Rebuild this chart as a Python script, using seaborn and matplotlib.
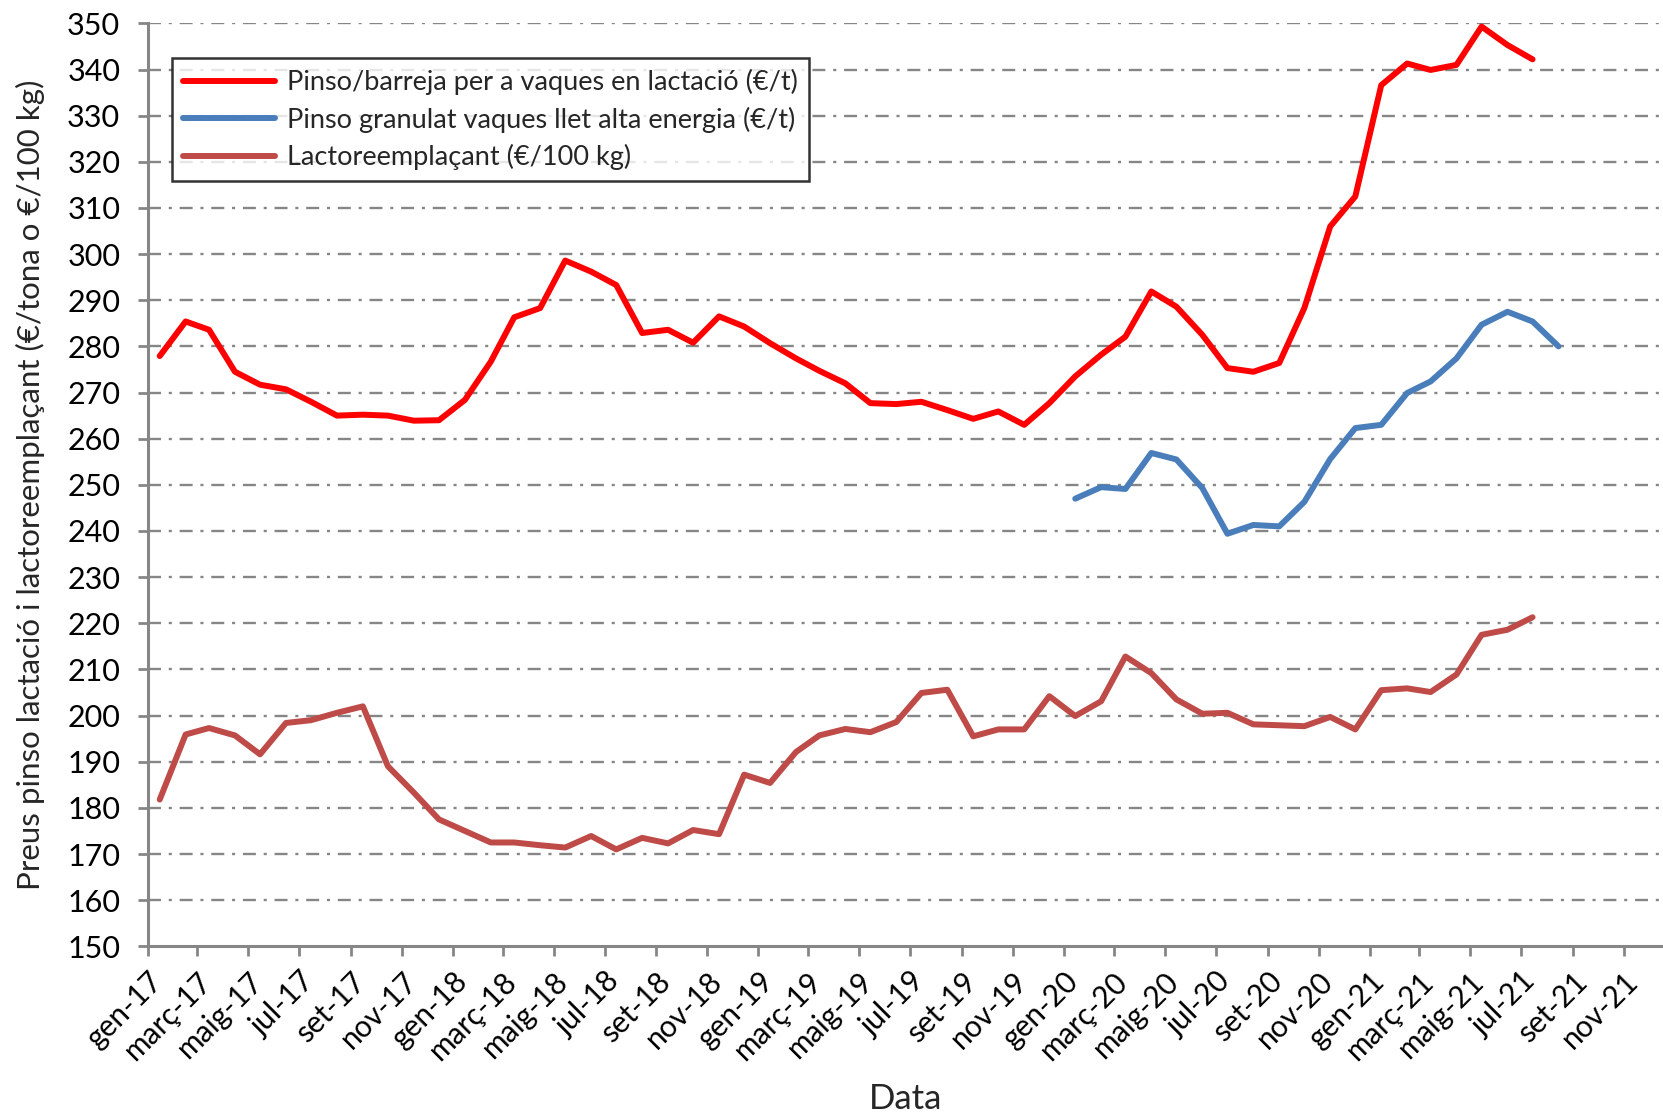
import pandas as pd
import matplotlib.pyplot as plt
import matplotlib.transforms as mtransforms
import seaborn as sns
import numpy as np

# Valors mensuals llegits del gràfic (gen-17 ... jul-21)
pinso_lactacio = [277.9, 285.4, 283.6, 274.5, 271.7, 270.7, 268.0, 265.0, 265.2, 265.0,
                  263.9, 264.0, 268.4, 276.7, 286.3, 288.3, 298.6, 296.2, 293.3, 282.9,
                  283.6, 280.8, 286.5, 284.3, 280.7, 277.4, 274.7, 272.0, 267.7, 267.5,
                  268.0, 266.2, 264.3, 265.9, 263.0, 267.7, 273.5, 278.2, 282.1, 291.9,
                  288.6, 282.5, 275.3, 274.5, 276.4, 288.3, 306.0, 312.5, 336.6, 341.3,
                  339.9, 341.0, 349.3, 345.3, 342.2]
# gen-20 ... ag-21
pinso_granulat = [247.0, 249.5, 249.1, 256.9, 255.5, 249.3, 239.4, 241.3, 241.0, 246.3,
                  255.6, 262.3, 263.0, 269.9, 272.4, 277.4, 284.7, 287.5, 285.4, 280.0]
# gen-17 ... jul-21
lactoreemplacant = [181.8, 195.9, 197.3, 195.7, 191.6, 198.4, 199.0, 200.6, 202.0, 189.0,
                    183.3, 177.5, 175.0, 172.5, 172.5, 171.9, 171.4, 173.9, 171.0, 173.5,
                    172.3, 175.2, 174.3, 187.2, 185.4, 192.1, 195.7, 197.1, 196.4, 198.6,
                    204.9, 205.6, 195.5, 197.0, 197.0, 204.2, 199.9, 203.1, 212.8, 209.2,
                    203.5, 200.4, 200.6, 198.1, 197.9, 197.7, 199.7, 197.0, 205.5, 205.9,
                    205.1, 208.9, 217.5, 218.6, 221.3]

noms = ['Pinso/barreja per a vaques en lactació (€/t)',
        'Pinso granulat vaques llet alta energia (€/t)',
        'Lactoreemplaçant (€/100 kg)']
colors = ['#FF0000', '#4A7EBB', '#BE4B48']

mesos = ['gen', 'febr', 'març', 'abr', 'maig', 'juny', 'jul', 'ag', 'set', 'oct', 'nov', 'des']

# dates a mig mes
d_lact = pd.date_range('2017-01-01', periods=len(pinso_lactacio), freq='MS') + pd.Timedelta(days=14)
d_gran = pd.date_range('2020-01-01', periods=len(pinso_granulat), freq='MS') + pd.Timedelta(days=14)
d_lacto = pd.date_range('2017-01-01', periods=len(lactoreemplacant), freq='MS') + pd.Timedelta(days=14)

sns.set_style('white')
plt.rcParams['font.family'] = ['Lato', 'DejaVu Sans']

fig = plt.figure(figsize=(16.63, 11.12), dpi=100)
ax = fig.add_axes([0.089, 0.149, 0.911, 0.830])

gris = '#868686'
for y in range(160, 351, 10):
    ax.axhline(y, color=gris, lw=1.7, ls=(0, (5.5, 3.3, 1.3, 3.3)), zorder=1)

series = [(d_lact, pinso_lactacio), (d_gran, pinso_granulat), (d_lacto, lactoreemplacant)]
for (d, v), nom, c in zip(series, noms, colors):
    sns.lineplot(x=d, y=v, ax=ax, color=c, lw=4.3, label=nom, zorder=3,
                 solid_capstyle='round', solid_joinstyle='round')

ax.set_ylim(150, 350)
ax.set_yticks(range(150, 351, 10))
ax.set_xlim(pd.Timestamp('2017-01-01'), pd.Timestamp('2021-12-18'))
ticks = pd.date_range('2017-01-01', '2021-11-01', freq='2MS')
ax.set_xticks(ticks)
ax.set_xticklabels([f"{mesos[t.month - 1]}-{t.year % 100}" for t in ticks],
                   rotation=45, ha='right', rotation_mode='anchor')
desp = mtransforms.ScaledTranslation(10 / 100, -4 / 100, fig.dpi_scale_trans)
for lab in ax.get_xticklabels():
    lab.set_transform(lab.get_transform() + desp)

for s in ['top', 'right']:
    ax.spines[s].set_visible(False)
for s in ['left', 'bottom']:
    ax.spines[s].set_color(gris)
    ax.spines[s].set_linewidth(2.2)
ax.tick_params(axis='both', colors=gris, width=2, length=7, direction='out',
               labelcolor='black')
ax.tick_params(axis='y', pad=13, labelsize=22)
ax.tick_params(axis='x', pad=8, labelsize=21.5)
ax.tick_params(left=True, bottom=True)

ax.set_xlabel('Data', fontsize=25, labelpad=13)
ax.set_ylabel('Preus pinso lactació i lactoreemplaçant (€/tona o €/100 kg)', fontsize=22.5, labelpad=16)

leg = ax.legend(loc='upper left', bbox_to_anchor=(0.0158, 0.962), borderaxespad=0,
                fontsize=19.5, frameon=True, fancybox=False, handlelength=3.4,
                labelspacing=0.42, borderpad=0.4, handletextpad=0.45)
leg.get_frame().set_edgecolor('black')
leg.get_frame().set_linewidth(1.8)

plt.savefig('out.png', dpi=100)
